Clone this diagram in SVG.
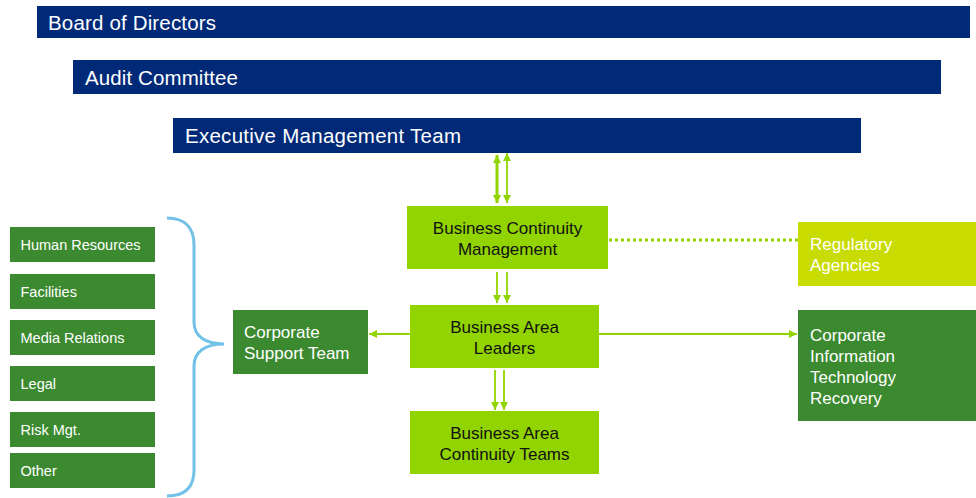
<svg xmlns="http://www.w3.org/2000/svg" width="976" height="498" viewBox="0 0 976 498">
<style>
.navy{fill:#002A78}
.lime{fill:#92D400}
.yel{fill:#C8DC02}
.dk{fill:#3C8A2F}
.t{font-family:"Liberation Sans",Arial,sans-serif}
.tw{fill:#FFFFFF}
.tb{fill:#111111}
.h{font-size:20.5px}
.m{font-size:17px}
.s{font-size:14.5px}
.ln{stroke:#92D400;fill:none}
</style>
<defs>
<marker id="ah" viewBox="0 0 10 10" refX="10" refY="5" markerWidth="8" markerHeight="8" markerUnits="userSpaceOnUse" orient="auto-start-reverse">
<path d="M0,0 L10,5 L0,10 z" fill="#92D400"/>
</marker>
</defs>
<rect width="976" height="498" fill="#FFFFFF"/>

<g id="board"><rect class="navy" x="37" y="6" width="933" height="32"/><text class="t tw h" x="48" y="30" textLength="168" lengthAdjust="spacing">Board of Directors</text></g>
<g id="audit"><rect class="navy" x="73" y="60" width="868" height="34"/><text class="t tw h" x="85" y="85" textLength="153" lengthAdjust="spacing">Audit Committee</text></g>
<g id="exec"><rect class="navy" x="173" y="118" width="688" height="35"/><text class="t tw h" x="185" y="143" textLength="276" lengthAdjust="spacing">Executive Management Team</text></g>

<g id="connectors">
<line class="ln" x1="497" y1="155" x2="497" y2="203" stroke-width="3" marker-start="url(#ah)" marker-end="url(#ah)"/>
<line class="ln" x1="507" y1="153" x2="507" y2="203" stroke-width="1.8" marker-start="url(#ah)" marker-end="url(#ah)"/>
<line class="ln" x1="497" y1="272" x2="497" y2="303" stroke-width="1.8" marker-end="url(#ah)"/>
<line class="ln" x1="507" y1="272" x2="507" y2="303" stroke-width="1.8" marker-end="url(#ah)"/>
<line class="ln" x1="495" y1="370" x2="495" y2="410" stroke-width="1.8" marker-end="url(#ah)"/>
<line class="ln" x1="504" y1="370" x2="504" y2="410" stroke-width="1.8" marker-end="url(#ah)"/>
<line class="ln" x1="410" y1="334" x2="369" y2="334" stroke-width="2" marker-end="url(#ah)"/>
<line class="ln" x1="599" y1="334" x2="797" y2="334" stroke-width="2" marker-end="url(#ah)"/>
<line class="ln" x1="609" y1="240" x2="798" y2="240" stroke-width="3" stroke-dasharray="3 3"/>
<path d="M167,218 C185,218 194,228 194,245 L194,322 C194,336 205,344 224,344 C205,344 194,352 194,366 L194,470 C194,487 185,496 167,496" fill="none" stroke="#71C2E6" stroke-width="3"/>
</g>

<g id="bcm"><rect class="lime" x="407" y="206" width="201" height="63"/><text class="t tb m" x="507.5" y="234" text-anchor="middle">Business Continuity</text><text class="t tb m" x="507.5" y="255" text-anchor="middle">Management</text></g>
<g id="bal"><rect class="lime" x="410" y="305" width="189" height="63"/><text class="t tb m" x="504.5" y="333" text-anchor="middle">Business Area</text><text class="t tb m" x="504.5" y="354" text-anchor="middle">Leaders</text></g>
<g id="bact"><rect class="lime" x="410" y="411" width="189" height="63"/><text class="t tb m" x="504.5" y="439" text-anchor="middle">Business Area</text><text class="t tb m" x="504.5" y="460" text-anchor="middle">Continuity Teams</text></g>
<g id="reg"><rect class="yel" x="798" y="222" width="178" height="64"/><text class="t tw m" x="810" y="250">Regulatory</text><text class="t tw m" x="810" y="271">Agencies</text></g>
<g id="citr"><rect class="dk" x="798" y="310" width="178" height="111"/><text class="t tw m" x="810" y="341">Corporate</text><text class="t tw m" x="810" y="362">Information</text><text class="t tw m" x="810" y="383">Technology</text><text class="t tw m" x="810" y="404">Recovery</text></g>
<g id="cst"><rect class="dk" x="233" y="310" width="135" height="64"/><text class="t tw m" x="244" y="338">Corporate</text><text class="t tw m" x="244" y="359">Support Team</text></g>

<g id="hr"><rect class="dk" x="10" y="227" width="145" height="35"/><text class="t tw s" x="20.5" y="250">Human Resources</text></g>
<g id="fac"><rect class="dk" x="10" y="274" width="145" height="35"/><text class="t tw s" x="20.5" y="297">Facilities</text></g>
<g id="media"><rect class="dk" x="10" y="320" width="145" height="35"/><text class="t tw s" x="20.5" y="343">Media Relations</text></g>
<g id="legal"><rect class="dk" x="10" y="366" width="145" height="35"/><text class="t tw s" x="20.5" y="389">Legal</text></g>
<g id="risk"><rect class="dk" x="10" y="412" width="145" height="35"/><text class="t tw s" x="20.5" y="435">Risk Mgt.</text></g>
<g id="other"><rect class="dk" x="10" y="453" width="145" height="35"/><text class="t tw s" x="20.5" y="476">Other</text></g>
</svg>
